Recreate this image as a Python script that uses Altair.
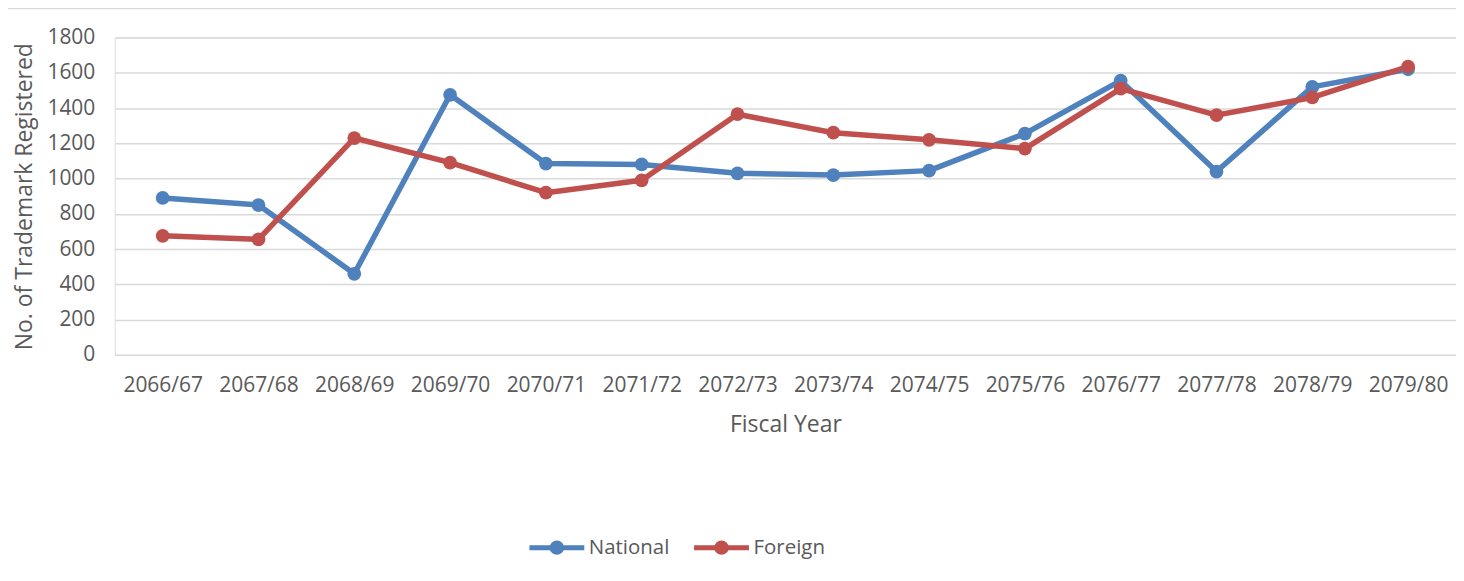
import altair as alt
import pandas as pd

years = ["2066/67", "2067/68", "2068/69", "2069/70", "2070/71", "2071/72", "2072/73",
         "2073/74", "2074/75", "2075/76", "2076/77", "2077/78", "2078/79", "2079/80"]
national = [890, 850, 460, 1475, 1085, 1080, 1030, 1020, 1045, 1255, 1555, 1040, 1520, 1620]
foreign = [675, 655, 1230, 1090, 920, 990, 1365, 1260, 1220, 1170, 1510, 1360, 1460, 1635]
series = ["National", "Foreign"]
colors = ["#4F81BD", "#C0504D"]

df = pd.DataFrame({
    "year": years * 2,
    "value": national + foreign,
    "series": [series[0]] * len(years) + [series[1]] * len(years),
})

FONT = "Open Sans"
GREY = "#595959"
GRID = "#D9D9D9"

legend_path = "M-1,0H1M0.17,0A0.17,0.17 0 1,1 -0.17,0A0.17,0.17 0 1,1 0.17,0Z"

legend = alt.Legend(
    title=None, orient="none", legendX=413, legendY=481, direction="horizontal",
    symbolType=legend_path, symbolSize=3025, symbolStrokeWidth=5,
    labelFont=FONT, labelFontSize=20.5, labelColor=GREY, labelOffset=2,
    columnPadding=14, padding=0,
)

x = alt.X("year:N", sort=years, title="Fiscal Year",
          scale=alt.Scale(paddingInner=1, paddingOuter=0.5),
          axis=alt.Axis(labelAngle=0, ticks=False, domain=False, grid=False,
                        labelFont=FONT, labelFontSize=21, labelColor=GREY, labelPadding=20,
                        titleFont=FONT, titleFontSize=23, titleColor=GREY, titleFontWeight="normal",
                        titlePadding=18))
y = alt.Y("value:Q", title="No. of Trademark Registered",
          scale=alt.Scale(domain=[0, 1800], nice=False, zero=True),
          axis=alt.Axis(values=list(range(0, 2000, 200)), format="d", ticks=False, domain=False,
                        grid=True, gridColor=GRID, gridWidth=1.5,
                        labelFont=FONT, labelFontSize=21, labelColor=GREY, labelPadding=20,
                        titleFont=FONT, titleFontSize=23, titleColor=GREY, titleFontWeight="normal",
                        titlePadding=10))

base = alt.Chart(df)

lines = base.mark_line(strokeWidth=5.5, strokeCap="round", strokeJoin="round").encode(
    x=x, y=y,
    stroke=alt.Stroke("series:N", sort=series,
                      scale=alt.Scale(domain=series, range=colors), legend=legend),
    detail="series:N",
)
points = base.mark_point(filled=True, size=190, opacity=1, shape="circle").encode(
    x=x, y=y,
    fill=alt.Fill("series:N", sort=series,
                  scale=alt.Scale(domain=series, range=colors), legend=legend),
)

top_rule = alt.Chart(pd.DataFrame({"k": [0]})).mark_rule(color=GRID, strokeWidth=1.5).encode(
    y=alt.value(-29), x=alt.value(-115), x2=alt.value(1349)
)

chart = alt.layer(top_rule, lines, points).properties(
    width=1344, height=318,
    autosize=alt.AutoSizeParams(type="none"),
    padding={"left": 107, "top": 29, "right": 0, "bottom": 220},
).configure_view(stroke=None).configure(background="white")

chart.save("out.html", embed_options={"renderer": "svg", "actions": False})
